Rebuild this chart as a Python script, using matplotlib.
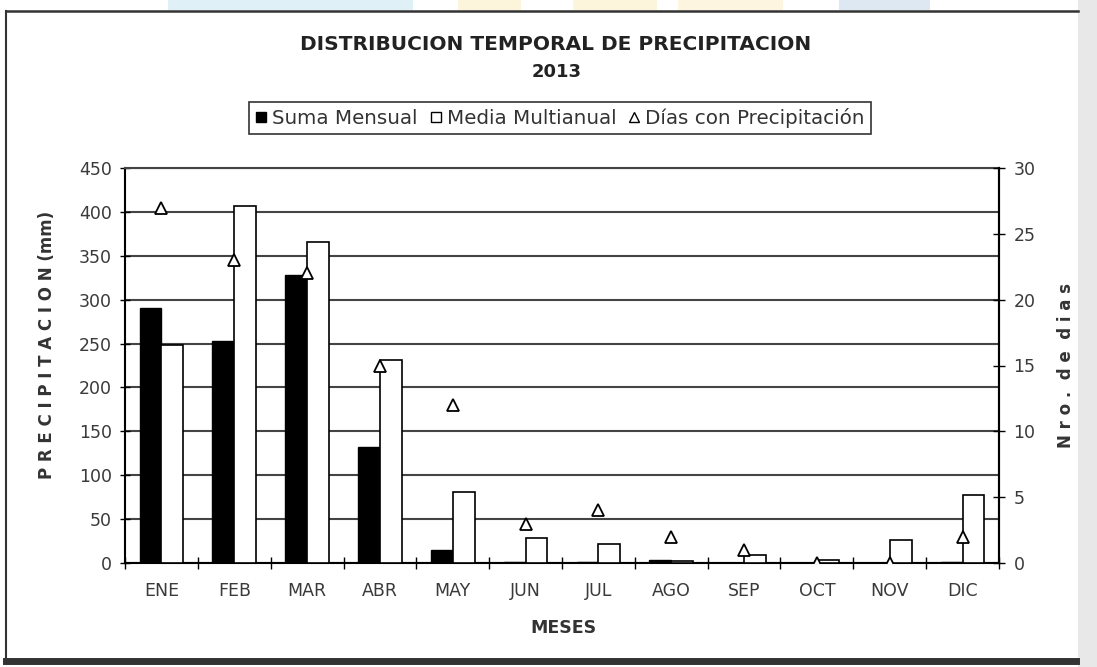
import numpy as np
import matplotlib.pyplot as plt
from matplotlib.lines import Line2D
from matplotlib.patches import Rectangle

meses = ['ENE', 'FEB', 'MAR', 'ABR', 'MAY', 'JUN', 'JUL', 'AGO', 'SEP', 'OCT', 'NOV', 'DIC']
suma_mensual = [290, 253, 328, 132, 15, 1, 1, 3, 0, 0, 0, 1]
media_multianual = [248, 407, 366, 231, 81, 28, 22, 2, 9, 3, 26, 78]
dias_precip = [27, 23, 22, 15, 12, 3, 4, 2, 1, 0, 0, 2]

plt.rcParams['font.family'] = ['DejaVu Sans']

W, H = 1097, 667
fig = plt.figure(figsize=(W/100, H/100), dpi=100)
fig.patch.set_facecolor('white')

def px(x0, y0):
    return x0 / W, 1 - y0 / H

# faint watermark blobs at the top edge
for x0, x1, c in [(168, 413, '#dff1f6'), (458, 521, '#fdf4dc'), (573, 657, '#fdf4dc'),
                  (678, 783, '#fdf5e0'), (839, 930, '#dde8f3')]:
    fig.add_artist(Rectangle((x0/W, 1-10/H), (x1-x0)/W, 10/H, transform=fig.transFigure,
                             facecolor=c, edgecolor='none', zorder=0))

# page frame and gray strip on the right
fig.add_artist(Rectangle((1078/W, 0), 19/W, 1, transform=fig.transFigure,
                         facecolor='#e8e8e8', edgecolor='none', zorder=0))
fig.add_artist(Line2D([6/W, 6/W], [1-11/H, 1-660/H], transform=fig.transFigure,
                      color='#333333', lw=1.5))
fig.add_artist(Line2D([6/W, 1078/W], [1-11/H, 1-11/H], transform=fig.transFigure,
                      color='#333333', lw=1.8))
fig.add_artist(Line2D([6/W, 1076/W], [1-661/H, 1-661/H], transform=fig.transFigure,
                      color='#333333', lw=5))

ax = fig.add_axes([125/W, 1-563/H, 874/W, 395/H])
x = np.arange(len(meses))
w = 0.3
ax.bar(x - w/2, suma_mensual, w, color='black', edgecolor='black', lw=1, zorder=3)
ax.bar(x + w/2, media_multianual, w, color='white', edgecolor='black', lw=1.2, zorder=3)

ax.set_ylim(0, 450)
ax.set_xlim(-0.5, 11.5)
ax.set_yticks(np.arange(0, 451, 50))
ax.set_xticks(x)
ax.set_xticklabels(meses)
ax.set_xticks(np.arange(-0.5, 12, 1), minor=True)
ax.tick_params(axis='x', which='major', length=0, pad=14, labelsize=12.5, labelcolor='#3a3a3a')
ax.tick_params(axis='x', which='minor', direction='inout', length=8, width=1)
ax.tick_params(axis='y', direction='inout', length=7, width=1, labelsize=12.5, labelcolor='#3a3a3a', pad=6)
ax.yaxis.grid(True, color='#444444', lw=1.5, zorder=0)
ax.set_axisbelow(True)
ax.spines['top'].set_color('#444444')
for s in ['left', 'right', 'bottom', 'top']:
    ax.spines[s].set_linewidth(1.5)

ax2 = ax.twinx()
ax2.plot(x, dias_precip, linestyle='none', marker='^', markersize=9,
         markerfacecolor='white', markeredgecolor='black', markeredgewidth=1.3, zorder=5)
ax2.set_ylim(0, 30)
ax2.set_yticks(np.arange(0, 31, 5))
ax2.tick_params(axis='y', direction='inout', length=9, width=1, labelsize=12.5, labelcolor='#3a3a3a', pad=6)
for s in ['top', 'left', 'bottom']:
    ax2.spines[s].set_visible(False)
ax2.spines['right'].set_linewidth(1.5)

fig.text(*px(556, 45), 'DISTRIBUCION TEMPORAL DE PRECIPITACION', ha='center', va='center',
         fontsize=14.5, fontweight='bold', color='#222222')
fig.text(*px(557, 72), '2013', ha='center', va='center',
         fontsize=13, fontweight='bold', color='#222222')

fig.text(*px(47, 345), 'P R E C I P I T A C I O N (mm)', rotation=90, ha='center', va='center',
         fontsize=12, fontweight='bold', color='#333333')
fig.text(*px(1066, 365), 'N r o .  d e  d i a s', rotation=90, ha='center', va='center',
         fontsize=12, fontweight='bold', color='#333333')
fig.text(*px(563, 628), 'MESES', ha='center', va='center',
         fontsize=12.5, fontweight='bold', color='#333333')

handles = [
    Line2D([], [], linestyle='none', marker='s', markersize=7, markerfacecolor='black', markeredgecolor='black'),
    Line2D([], [], linestyle='none', marker='s', markersize=7, markerfacecolor='white', markeredgecolor='black'),
    Line2D([], [], linestyle='none', marker='^', markersize=7, markerfacecolor='white', markeredgecolor='black'),
]
leg = fig.legend(handles, ['Suma Mensual', 'Media Multianual', 'Días con Precipitación'],
                 loc='center', bbox_to_anchor=px(560, 118), ncol=3, fontsize=14.3,
                 handlelength=0.6, handletextpad=0.25, columnspacing=0.6, fancybox=False,
                 edgecolor='black', borderpad=0.3)
leg.get_frame().set_linewidth(1.2)
for t in leg.get_texts():
    t.set_color('#333333')

fig.savefig('out.png', dpi=100)
